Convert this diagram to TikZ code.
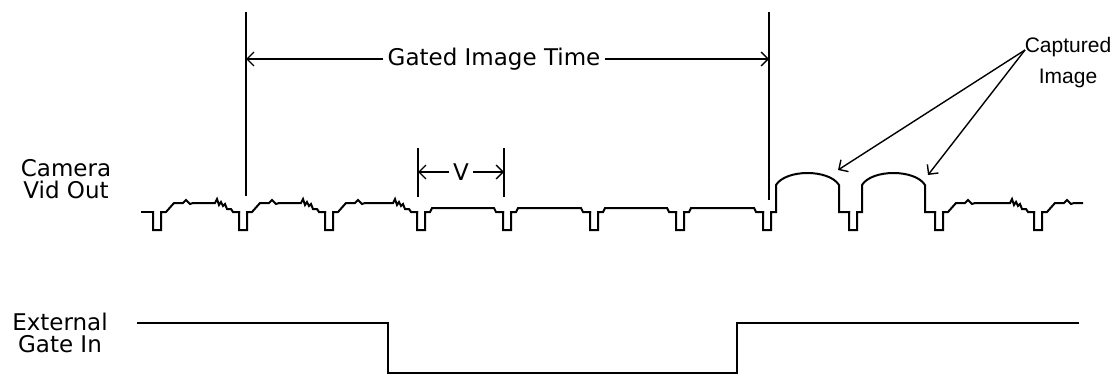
\documentclass[tikz,border=0pt]{standalone}
\usepackage{fontspec}
\setmainfont{DejaVu Sans}
\newfontfamily\captfont{Liberation Sans}
\usetikzlibrary{arrows.meta}

\begin{document}
\begin{tikzpicture}[x=1pt,y=-1pt]
\tikzstyle{every node}+=[inner sep=4pt]
\tikzstyle{wave}=[line width=2pt, line cap=rect, line join=miter]
\tikzstyle{guide}=[line width=2pt]
\tikzstyle{dim}=[line width=1.4pt, -{Straight Barb[length=7pt,width=14pt]}]
\tikzstyle{lbl}=[font=\fontsize{23}{22}\selectfont, align=center]
\tikzstyle{smalllbl}=[font=\captfont\fontsize{21}{31}\selectfont, align=center]
\useasboundingbox (0,0) rectangle (1116,375);
% labels
\node [lbl] (camlbl) at (66,179) {Camera\\Vid Out};
\node [lbl] (gatelbl) at (60,333) {External\\Gate In};
\node [lbl] (gtime) at (494,59) {Gated Image Time};
\node [lbl] (vlen) at (461,172) {V};
\node [smalllbl] (capt) at (1068,63) {Captured\\Image};
% gate markers
\coordinate (gateLtop) at (246,12);
\coordinate (gateLmid) at (246,59);
\coordinate (gateLbot) at (246,196);
\coordinate (gateRtop) at (769,12);
\coordinate (gateRmid) at (769,59);
\coordinate (gateRbot) at (769,200);
\draw [guide] (gateLtop) -- (gateLbot);
\draw [guide] (gateRtop) -- (gateRbot);
\draw [dim] (gtime) -- (gateLmid);
\draw [dim] (gtime) -- (gateRmid);
% one video period
\coordinate (vLtop) at (418,148);
\coordinate (vLmid) at (418,172);
\coordinate (vLbot) at (418,197);
\coordinate (vRtop) at (504,148);
\coordinate (vRmid) at (504,172);
\coordinate (vRbot) at (504,197);
\draw [guide] (vLtop) -- (vLbot);
\draw [guide] (vRtop) -- (vRbot);
\draw [dim] (vlen) -- (vLmid);
\draw [dim] (vlen) -- (vRmid);
% captured frames
\coordinate (capsrc) at (1025,50);
\coordinate (capA) at (838,170);
\coordinate (capB) at (928,175);
\draw [dim] (capsrc) -- (capA);
\draw [dim] (capsrc) -- (capB);
% camera video out
\draw [wave] (142,212) -- (153,212);
\foreach \p/\q in {157/243, 243/329, 329/421, 939/1038}
  \draw [wave] (\p-4,212) -- (\p-4,230) -- (\p+4,230) -- (\p+4,212) -- (\p+9,212)
    -- (\p+17,203) -- (\p+26,203) -- (\p+29,200) -- (\p+33,204) -- (\p+36,203)
    -- (\q-28,203) -- (\q-26,199) -- (\q-24,205) -- (\q-22,202) -- (\q-20,206)
    -- (\q-18,204) -- (\q-16,209) -- (\q-12,209) -- (\q-10,212) -- (\q-4,212);
\foreach \p/\q in {421/507, 507/594, 594/680, 680/767}
  \draw [wave] (\p-4,212) -- (\p-4,230) -- (\p+4,230) -- (\p+4,212) -- (\p+9,212)
    -- (\p+11,208) -- (\q-13,208) -- (\q-11,212) -- (\q-4,212);
\foreach \p/\q in {767/853, 853/939}
  \draw [wave] (\p-4,212) -- (\p-4,230) -- (\p+4,230) -- (\p+4,212) -- (\p+9,212)
    -- (\p+9,185) .. controls (\p+19,169) and (\p+62,169) .. (\p+72,185)
    -- (\p+72,212) -- (\q-4,212);
\draw [wave] (1034,212) -- (1034,230) -- (1042,230) -- (1042,212) -- (1047,212)
  -- (1055,203) -- (1064,203) -- (1067,200) -- (1071,204) -- (1074,203) -- (1082,203);
% external gate in
\draw [wave] (138,323) -- (388,323) -- (388,373) -- (737,373) -- (737,323) -- (1078,323);
\end{tikzpicture}
\end{document}
